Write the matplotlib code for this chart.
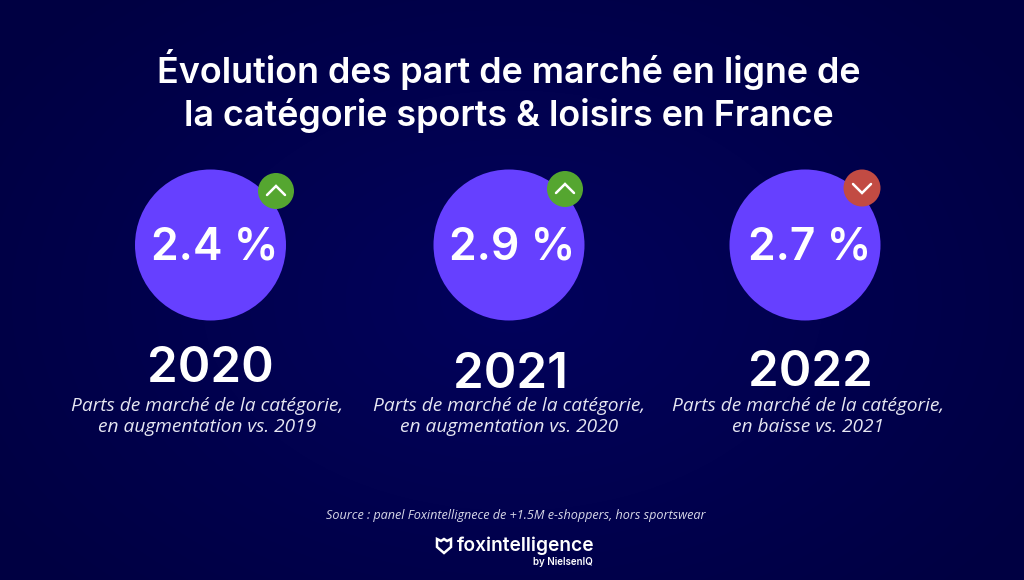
import numpy as np
import matplotlib
matplotlib.use("Agg")
import matplotlib.pyplot as plt
from matplotlib.patches import Circle, Polygon

plt.rcParams['font.family'] = ['Inter', 'DejaVu Sans']

# data
years = ['2020', '2021', '2022']
shares = [2.4, 2.9, 2.7]
trend = ['up', 'up', 'down']
captions = [
    'Parts de marché de la catégorie,\nen augmentation vs. 2019',
    'Parts de marché de la catégorie,\nen augmentation vs. 2020',
    'Parts de marché de la catégorie,\nen baisse vs. 2021',
]
title = 'Évolution des part de marché en ligne de\nla catégorie sports & loisirs en France'
source = 'Source : panel Foxintellignece de +1.5M e-shoppers, hors sportswear'

# layout, in pixels
circle_x = [210.5, 509, 805]
badge_xy = [(276, 191), (565, 189), (862, 188)]
badge_r = [18, 18, 18.5]
year_y = [368.5, 374.5, 372.5]
year_x = [210, 510, 810]
caption_x = [207, 509, 808]
share_x = [215, 512, 810]

fig = plt.figure(figsize=(10.24, 5.8), dpi=100)
ax = fig.add_axes([0, 0, 1, 1])
ax.set_xlim(0, 1024)
ax.set_ylim(580, 0)
ax.axis('off')

# background, a bit lighter in the middle
yy, xx = np.mgrid[0:580, 0:1024]
d = np.clip(np.sqrt(((xx - 512) / 620) ** 2 + ((yy - 300) / 420) ** 2), 0, 1)
bg = np.zeros((580, 1024, 3))
bg[..., 0] = (2 - 2 * d) / 255
bg[..., 1] = (2 - 2 * d) / 255
bg[..., 2] = (92 - 26 * d) / 255
ax.imshow(bg, extent=(0, 1024, 580, 0), aspect='auto', zorder=0)

ax.text(509, 91, title, color='white', fontsize=25.9, fontweight='semibold',
        ha='center', va='center', linespacing=1.3)

for i in range(3):
    ax.add_patch(Circle((circle_x[i], 245), 75.5, color='#6640FF', lw=0, zorder=2))
    ax.text(share_x[i], 248, f'{shares[i]} %', color='white', fontsize=32, fontweight='semibold',
            ha='center', va='center', zorder=4)

    bx, by = badge_xy[i]
    up = trend[i] == 'up'
    ax.add_patch(Circle((bx, by), badge_r[i], color='#55A630' if up else '#C24B43', lw=0, zorder=3))
    s = -1 if up else 1
    ax.plot([bx - 9, bx, bx + 9], [by - 4 * s, by + 5 * s, by - 4 * s], color='white', lw=1.8,
            solid_capstyle='round', solid_joinstyle='miter', zorder=4)

    ax.text(year_x[i], year_y[i], years[i], color='white', fontsize=35.5, fontweight='semibold',
            ha='center', va='center', zorder=4)
    ax.text(caption_x[i], 416.5, captions[i], color='#E6E6F2', fontsize=13.8, style='italic',
            family=['Open Sans', 'DejaVu Sans'], ha='center', va='center', linespacing=1.17, zorder=4)

ax.text(516, 515, source, color='#D8D8E8', fontsize=9.1, style='italic',
        family=['Open Sans', 'DejaVu Sans'], ha='center', va='center')

# logo
ax.add_patch(Polygon([(437, 539), (441, 541), (444, 539), (447, 541), (451, 539), (451, 547),
                      (444, 553), (437, 547)], closed=True, fill=False, ec='white', lw=1.8))
ax.text(457, 546, 'foxintelligence', color='white', fontsize=13.8, fontweight='semibold', ha='left', va='center')
ax.text(593, 562, 'by NielsenIQ', color='white', fontsize=7, fontweight='semibold', ha='right', va='center')

fig.savefig('out.png', dpi=100)
